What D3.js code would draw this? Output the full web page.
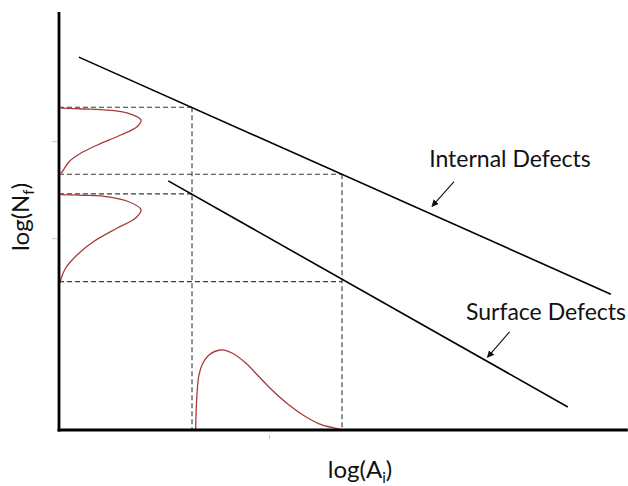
<!DOCTYPE html>
<html>
<head>
<meta charset="utf-8">
<script src="https://cdn.jsdelivr.net/npm/d3@7/dist/d3.min.js"></script>
<style>
  html, body { margin: 0; padding: 0; background: #fff; }
  svg { display: block; }
  text { font-family: Lato, "Open Sans", sans-serif; fill: #111; }
</style>
</head>
<body>
<script>
// Schematic S-N style diagram: fatigue life log(Nf) versus defect size log(Ai)

// Life lines, each given by its two end points (log A, log N)
const internalLine = [[0.35, 8.92], [9.75, 3.25]];
const surfaceLine  = [[1.93, 5.96], [8.99, 0.55]];

// Two reference defect sizes (log A) and the life levels read at them (log N)
const defectSizes = [2.35, 5.0];
const internalLives = [7.72, 6.12];
const surfaceLives  = [5.65, 3.55];

// Defect size distribution along the log(A) axis: [log A, density]
const sizeDensity = [
  [2.415, 0], [2.424, 0.478], [2.443, 0.957], [2.473, 1.316], [2.527, 1.555],
  [2.650, 1.794], [2.857, 1.914], [3.057, 1.842], [3.299, 1.603], [3.534, 1.275],
  [3.763, 0.957], [4.064, 0.598], [4.359, 0.318], [4.647, 0.120], [4.947, 0.024], [5.0, 0]
];

// Life distributions along the log(N) axis: [density, log N]
const internalLifeDensity = [
  [0.03, 7.70], [0.44, 7.68], [0.795, 7.66], [1.201, 7.586], [1.449, 7.416],
  [1.378, 7.256], [1.090, 7.057], [0.677, 6.818], [0.383, 6.620], [0.177, 6.419],
  [0.058, 6.179], [0.03, 6.141]
];
const surfaceLifeDensity = [
  [0.03, 5.629], [0.44, 5.615], [0.795, 5.591], [1.201, 5.478], [1.449, 5.270],
  [1.355, 5.072], [1.030, 4.833], [0.618, 4.514], [0.323, 4.194], [0.118, 3.876],
  [0.03, 3.596], [0.018, 3.517]
];

// Faint leftover tick marks
const xTicks = [3.71];
const yTicks = [6.91, 4.59];

// Labels
const lineLabels = [
  { text: "Internal Defects", at: [6.54, 6.28], arrowFrom: [6.98, 5.94], arrowTo: [6.59, 5.35] },
  { text: "Surface Defects",  at: [7.19, 2.63], arrowFrom: [7.96, 2.35], arrowTo: [7.57, 1.74] }
];

const width = 628, height = 486;
const x = d3.scaleLinear().domain([0, 10]).range([59, 625]);
const y = d3.scaleLinear().domain([0, 10]).range([430, 12]);
const xEnd = 10.05;

const svg = d3.select("body").append("svg")
  .attr("width", width).attr("height", height);

svg.append("defs").append("marker")
  .attr("id", "head")
  .attr("viewBox", "0 0 10 10")
  .attr("refX", 9).attr("refY", 5)
  .attr("markerWidth", 7).attr("markerHeight", 7)
  .attr("markerUnits", "userSpaceOnUse")
  .attr("orient", "auto")
  .append("path").attr("d", "M0,0L10,5L0,10z").attr("fill", "#111");

// faint ticks
svg.append("g")
  .attr("transform", `translate(0,${y(0) + 5})`)
  .call(d3.axisBottom(x).tickValues(xTicks).tickSize(4).tickFormat(""))
  .call(g => g.select(".domain").remove())
  .call(g => g.selectAll("line").attr("stroke", "#c4c4c4"));
svg.append("g")
  .attr("transform", `translate(${x(0) - 2},0)`)
  .call(d3.axisLeft(y).tickValues(yTicks).tickSize(5).tickFormat(""))
  .call(g => g.select(".domain").remove())
  .call(g => g.selectAll("line").attr("stroke", "#c4c4c4"));

// dashed projections
const dash = svg.append("g")
  .attr("stroke", "#3a3a3a").attr("stroke-width", 1.1)
  .attr("stroke-dasharray", "5,3").attr("fill", "none");
defectSizes.forEach((a, i) => {
  dash.append("line")
    .attr("x1", x(0)).attr("x2", x(a))
    .attr("y1", y(internalLives[i])).attr("y2", y(internalLives[i]));
  dash.append("line")
    .attr("x1", x(0)).attr("x2", x(a))
    .attr("y1", y(surfaceLives[i])).attr("y2", y(surfaceLives[i]));
  dash.append("line")
    .attr("x1", x(a)).attr("x2", x(a))
    .attr("y1", y(internalLives[i])).attr("y2", y(0));
});

// distributions
const curve = d3.line()
  .x(d => x(d[0])).y(d => y(d[1]))
  .curve(d3.curveCatmullRom.alpha(0.5));
const dens = svg.append("g")
  .attr("fill", "none").attr("stroke", "#a83a3a").attr("stroke-width", 1.3);
dens.append("path").attr("d", curve(sizeDensity));
dens.append("path").attr("d", curve(internalLifeDensity));
dens.append("path").attr("d", curve(surfaceLifeDensity));

// life lines
const straight = d3.line().x(d => x(d[0])).y(d => y(d[1]));
svg.append("g").attr("fill", "none").attr("stroke", "#000").attr("stroke-width", 1.6)
  .selectAll("path").data([internalLine, surfaceLine]).join("path")
  .attr("d", straight);

// axes
svg.append("line")
  .attr("x1", x(0)).attr("x2", x(0)).attr("y1", y(10)).attr("y2", y(0) + 1.5)
  .attr("stroke", "#000").attr("stroke-width", 2.8);
svg.append("line")
  .attr("x1", x(0) - 1.4).attr("x2", x(xEnd)).attr("y1", y(0)).attr("y2", y(0))
  .attr("stroke", "#000").attr("stroke-width", 2.8);

// line labels with arrows
lineLabels.forEach(l => {
  svg.append("text")
    .attr("x", x(l.at[0])).attr("y", y(l.at[1]))
    .attr("font-size", 23)
    .text(l.text);
  svg.append("line")
    .attr("x1", x(l.arrowFrom[0])).attr("y1", y(l.arrowFrom[1]))
    .attr("x2", x(l.arrowTo[0])).attr("y2", y(l.arrowTo[1]))
    .attr("stroke", "#111").attr("stroke-width", 1.1)
    .attr("marker-end", "url(#head)");
});

// axis titles
const xt = svg.append("text")
  .attr("x", 360).attr("y", 478)
  .attr("text-anchor", "middle").attr("font-size", 24);
xt.append("tspan").text("log(A");
xt.append("tspan").attr("font-size", 15).attr("dy", 5).text("i");
xt.append("tspan").attr("dy", -5).text(")");

const yt = svg.append("text")
  .attr("transform", "translate(29,217) rotate(-90)")
  .attr("text-anchor", "middle").attr("font-size", 24);
yt.append("tspan").text("log(N");
yt.append("tspan").attr("font-size", 15).attr("dy", 5).text("f");
yt.append("tspan").attr("dy", -5).text(")");
</script>
</body>
</html>
